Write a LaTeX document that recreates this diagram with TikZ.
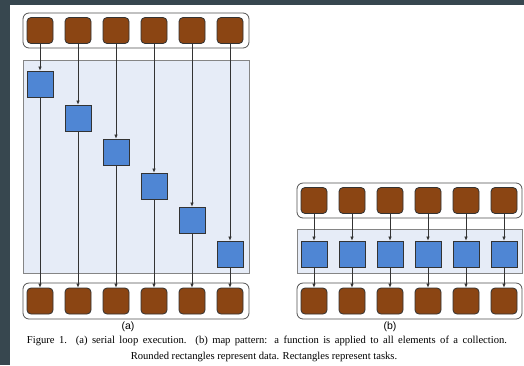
\documentclass[tikz,border=0pt]{standalone}
\usepackage{fontspec}
\setmainfont{Liberation Serif}
\setsansfont{Liberation Sans}
\usetikzlibrary{arrows.meta}
\definecolor{bg}{HTML}{37474F}
\definecolor{dat}{HTML}{8B4513}
\definecolor{task}{HTML}{4F86D4}
\definecolor{band}{HTML}{E6ECF7}
\definecolor{edge}{HTML}{333333}
\begin{document}
\begin{tikzpicture}[x=1pt,y=-1pt,
  datum/.style={draw=edge, fill=dat, rounded corners=4pt, minimum width=26pt, minimum height=26pt, inner sep=0pt, line width=0.8pt},
  taskbox/.style={draw=edge, fill=task, minimum size=26pt, inner sep=0pt, line width=0.8pt},
  holder/.style={draw=edge!85, fill=white, rounded corners=6pt, line width=0.8pt, inner sep=0pt},
  bandbox/.style={draw=edge!60, fill=band, line width=0.6pt, inner sep=0pt},
  flow/.style={draw=edge, line width=0.6pt, -{Latex[length=4pt,width=3.5pt]}},
  lab/.style={font=\sffamily\fontsize{10.5}{12}\selectfont, inner sep=0pt},
  captext/.style={font=\fontsize{10.6}{13}\selectfont, inner sep=0pt}]
\useasboundingbox (0,0) rectangle (524,365);
\fill[bg] (0,0) rectangle (524,365);
\fill[white] (10,5) rectangle (524,365);

% ---------- (a) serial loop ----------
\node[holder, minimum width=226pt, minimum height=35pt] (atop) at (136,30.5) {};
\node[bandbox, minimum width=226pt, minimum height=213pt] (aband) at (136,166.5) {};
\node[holder, minimum width=226pt, minimum height=36pt] (abot) at (136,301) {};
\foreach \i/\x/\y in {1/40/84, 2/78/118, 3/116/152, 4/154/186, 5/192/220, 6/230/254} {
  \node[datum] (ain\i) at (\x,30.5) {};
  \node[taskbox] (at\i) at (\x,\y) {};
  \node[datum] (aout\i) at (\x,301) {};
}
\foreach \i in {1,...,6} {
  \draw[flow] (ain\i.south) -- (at\i.north);
  \draw[flow] (at\i.south) -- (aout\i.north);
}
\node[lab] (la) at (128,326.5) {(a)};

% ---------- (b) map ----------
\node[holder, minimum width=225pt, minimum height=35pt] (btop) at (409.5,200.5) {};
\node[bandbox, minimum width=225pt, minimum height=44pt] (bband) at (409.5,251) {};
\node[holder, minimum width=225pt, minimum height=36pt] (bbot) at (409.5,301) {};
\foreach \i/\x in {1/314, 2/352, 3/390, 4/428, 5/466, 6/504} {
  \node[datum] (bin\i) at (\x,200.5) {};
  \node[taskbox] (bt\i) at (\x,254) {};
  \node[datum] (bout\i) at (\x,301) {};
  \draw[flow] (bin\i.south) -- (bt\i.north);
  \draw[flow] (bt\i.south) -- (bout\i.north);
}
\node[lab] (lb) at (390,327) {(b)};

% ---------- caption ----------
\node[captext] (c1) at (267,341) {\makebox[480pt][s]{Figure 1. (a) serial loop execution. (b) map pattern: a function is applied to all elements of a collection.}};
\node[captext] (c2) at (264,356.5) {Rounded rectangles represent data. Rectangles represent tasks.};
\end{tikzpicture}
\end{document}
